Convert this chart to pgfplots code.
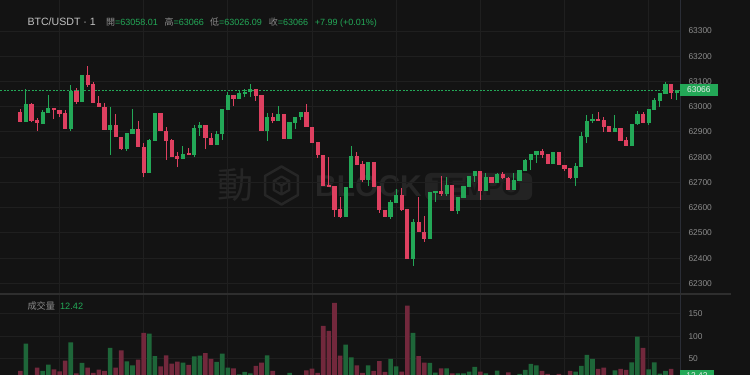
\documentclass[border=0pt]{standalone}
\usepackage{fontspec}
\setmainfont{Liberation Sans}
\newfontfamily\cjk{Noto Sans CJK TC}
\usepackage{pgfplots}
\usepackage{pgfplotstable}
\pgfplotsset{compat=1.18}
\definecolor{bg}{HTML}{131313}
\definecolor{gridc}{HTML}{1F1F1F}
\definecolor{up}{HTML}{23A857}
\definecolor{dn}{HTML}{DE4060}
\definecolor{vup}{HTML}{1E6639}
\definecolor{vdn}{HTML}{72283C}
\definecolor{tick}{HTML}{8C8C8C}
\definecolor{lab}{HTML}{8C8C8C}
\definecolor{titlec}{HTML}{C2C2C2}
\definecolor{wm}{HTML}{262626}
\definecolor{wmbox}{HTML}{232323}
\definecolor{wmtext}{HTML}{171717}
\definecolor{divv}{HTML}{2A2D36}
\definecolor{divh}{HTML}{2E2E2E}
\definecolor{boxtxt}{HTML}{EAEAEA}

% rising candles: index, open, high, low, close, volume
\pgfplotstableread{
i o h l c v
1 62941 63069 62941 63011 83.6
4 62934 62986 62934 62979 22.5
5 62979 63047 62979 62996 36.6
9 62912 63086 62903 63062 86.6
11 63020 63125 63018 63125 40.4
16 62908 62999 62810 62928 73.9
19 62835 62895 62826 62895 44.1
20 62895 62991 62895 62912 35.2
23 62740 62871 62740 62868 106
24 62868 62974 62868 62974 56
29 62794 62844 62794 62814 41.1
31 62811 62926 62802 62916 55.3
32 62916 62940 62885 62926 56.8
35 62850 62905 62850 62893 42.6
36 62893 62991 62869 62991 61.3
37 62991 63060 62991 63048 29.9
39 63033 63066 63033 63056 15
40 63053 63069 63040 63060 20.3
41 63060 63090 63040 63070 17.3
44 62907 62974 62864 62959 57.5
46 62947 63004 62947 62971 10
48 62875 62940 62875 62940 18
49 62939 62961 62912 62960 10
50 62960 62978 62947 62978 10
58 62565 62681 62564 62681 81.4
59 62681 62844 62681 62805 53.1
62 62710 62780 62687 62780 35.2
66 62564 62630 62555 62621 49.3
67 62621 62673 62621 62651 32.8
70 62400 62555 62370 62543 107.5
73 62476 62661 62476 62661 40.4
74 62661 62666 62624 62666 18.7
76 62657 62720 62646 62691 28.4
78 62587 62641 62574 62641 17.3
79 62641 62685 62641 62685 17.3
80 62685 62726 62685 62726 21
81 62726 62745 62703 62745 31.4
83 62667 62736 62667 62723 17.3
85 62698 62736 62698 62732 23.2
88 62671 62739 62671 62708 10
89 62708 62749 62708 62749 15.8
90 62749 62793 62749 62789 24.7
91 62789 62811 62749 62811 38.2
92 62811 62825 62778 62825 35.2
95 62776 62821 62776 62821 10
99 62719 62778 62686 62765 21
100 62765 62899 62765 62884 33.7
101 62884 62966 62855 62945 58.3
102 62944 62970 62937 62951 49.3
106 62901 62967 62901 62914 24
109 62848 62933 62848 62933 41.8
110 62933 62984 62928 62971 99.3
112 62938 62991 62928 62991 26.2
113 62991 63033 62991 63025 41.8
114 63025 63053 63000 63053 16.5
115 63053 63097 63053 63090 22.5
117 63058.01 63066 63026.09 63066 12.42
}\dataup

% falling candles
\pgfplotstableread{
i o h l c v
0 62980 62990 62938 62941 22.5
2 63011 63016 62938 62945 10
3 62946 62955 62904 62936 29.9
6 62996 62997 62950 62988 26.2
7 62988 62988 62958 62974 21.7
8 62975 62986 62913 62913 45.5
10 63062 63075 63010 63019 17.3
12 63125 63161 63079 63089 29.9
13 63090 63099 63014 63015 18.0
14 63015 63043 62999 62999 25.4
15 62999 63016 62908 62908 22.5
17 62928 62971 62881 62881 29.9
18 62881 62881 62829 62834 68.7
21 62912 62942 62842 62842 47.8
22 62842 62855 62720 62740 107.5
25 62974 62974 62904 62904 32.8
26 62904 62920 62789 62867 57.5
27 62867 62873 62802 62802 38.9
28 62805 62821 62760 62794 43.4
30 62815 62838 62810 62810 35.9
33 62926 62926 62831 62879 62.7
34 62877 62895 62850 62850 49.3
38 63048 63048 63004 63033 28.4
42 63071 63072 63024 63046 33.7
43 63047 63048 62906 62907 41.1
45 62959 62974 62934 62947 22.5
47 62971 62971 62875 62875 10
51 62978 63012 62920 62920 24
52 62920 62920 62859 62859 27.7
53 62860 62860 62798 62809 18
54 62808 62808 62687 62687 123.2
55 62687 62802 62685 62686 112
56 62687 62687 62564 62591 174.6
57 62594 62644 62560 62564 56.8
60 62805 62819 62772 62772 35.2
61 62773 62786 62703 62710 18
63 62780 62780 62685 62685 22.5
64 62685 62686 62578 62591 44.8
65 62591 62591 62564 62564 20.3
68 62651 62677 62587 62594 21
69 62594 62594 62400 62400 168.6
71 62543 62644 62505 62505 56
72 62504 62567 62465 62476 41.1
75 62666 62726 62646 62657 28.4
77 62691 62691 62587 62587 17.3
82 62745 62745 62630 62667 21
84 62723 62723 62698 62698 10
86 62732 62741 62712 62719 10
87 62719 62723 62671 62671 19.5
93 62825 62834 62797 62810 22.5
94 62811 62811 62772 62776 15.8
96 62821 62821 62770 62770 15.8
97 62770 62770 62747 62755 10
98 62757 62757 62712 62719 22.5
103 62951 62979 62946 62946 27
104 62946 62958 62899 62922 29.9
105 62922 62922 62900 62901 10
107 62914 62914 62865 62865 27
108 62867 62881 62848 62848 24.7
111 62971 62978 62934 62938 73.9
116 63090 63091 63030 63058 27
}\datadn

\pgfplotsset{
  panel/.style={
    scale only axis, width=680pt,
    xmin=-3.619, xmax=117.594,
    axis line style={draw=none}, major tick length=0pt,
    xtick={7,22,37,52,67,82,97,112}, xticklabels={},
    xticklabel style={overlay},
    yticklabel pos=right,
    yticklabel style={font=\fontsize{8.4}{10}\selectfont, text=tick, anchor=west, xshift=5pt},
    grid=major, grid style={gridc, line width=1pt},
  },
  nomark/.style={only marks, mark=*, mark size=0pt, mark options={draw=none, fill=none}},
}

\begin{document}
\begin{tikzpicture}[x=1pt,y=1pt]
\fill[bg] (0,0) rectangle (750,375);
% watermark
\node[anchor=center, inner sep=0, text=wm, font=\cjk\fontsize{36}{36}\selectfont] at (235.5,190) {動};
\draw[wm, line width=2.5pt, line join=round] (281.5,208.5) -- (297.95,199) -- (297.95,180) -- (281.5,170.5) -- (265.05,180) -- (265.05,199) -- cycle;
\draw[wm, line width=2.2pt, line join=round] (281.5,198.5) -- (289.3,194) -- (289.3,185) -- (281.5,180.5) -- (273.7,185) -- (273.7,194) -- cycle (273.7,194) -- (281.5,189.5) -- (289.3,194) (281.5,189.5) -- (281.5,180.5);
\node[anchor=base west, inner sep=0, text=wm, font=\fontsize{30}{30}\selectfont\bfseries] at (315,178) {BLOCK};
\fill[wmbox, rounded corners=6pt] (425,175) rectangle (532,202);
\node[anchor=base west, inner sep=0, text=wmtext, font=\fontsize{25}{25}\selectfont\bfseries] at (432,179.5) {TEMPO};

\begin{axis}[panel, at={(0pt,81pt)}, anchor=south west, height=294pt,
  ymin=62258, ymax=63423,
  ytick={62300,62400,62500,62600,62700,62800,62900,63000,63100,63200,63300},
  yticklabels={62300,62400,62500,62600,62700,62800,62900,63000,63100,63200,63300}]
\addplot[up, line width=0.8pt, dash pattern=on 2pt off 1.5pt] coordinates {(-3.619,63066) (117.594,63066)};
% wicks
\addplot[nomark, error bars/.cd, y dir=plus, y explicit, error mark=none,
  error bar style={draw=up, line width=1pt}]
  table[x=i, y=l, y error plus expr=\thisrow{h}-\thisrow{l}] {\dataup};
\addplot[nomark, error bars/.cd, y dir=plus, y explicit, error mark=none,
  error bar style={draw=dn, line width=1pt}]
  table[x=i, y=l, y error plus expr=\thisrow{h}-\thisrow{l}] {\datadn};
% bodies
\addplot[only marks, mark=-, mark size=2.1pt, mark options={draw=up, line width=1pt},
  error bars/.cd, y dir=plus, y explicit, error mark=none,
  error bar style={draw=up, line width=4.2pt}]
  table[x=i, y=o, y error plus expr=\thisrow{c}-\thisrow{o}] {\dataup};
\addplot[only marks, mark=-, mark size=2.1pt, mark options={draw=dn, line width=1pt},
  error bars/.cd, y dir=plus, y explicit, error mark=none,
  error bar style={draw=dn, line width=4.2pt}]
  table[x=i, y=c, y error plus expr=\thisrow{o}-\thisrow{c}] {\datadn};
\coordinate (pl) at (axis cs:117.594,63066);
\end{axis}

\begin{axis}[panel, at={(0pt,0pt)}, anchor=south west, height=81pt,
  ymin=13.5, ymax=194.7,
  ytick={50,100,150}, yticklabels={50,100,150},
  ybar, bar width=4.6pt]
\addplot[fill=vup, draw=none, bar shift=0pt] table[x=i, y=v] {\dataup};
\addplot[fill=vdn, draw=none, bar shift=0pt] table[x=i, y=v] {\datadn};
\coordinate (vl) at (axis cs:117.594,12.42);
\end{axis}

% dividers
\draw[divv, line width=1pt] (680,0) -- (680,375);
\draw[divh, line width=1.3pt] (0,81) -- (731,81);

% price labels
\node[fill=up, text=boxtxt, anchor=west, inner xsep=7pt, inner ysep=0pt, minimum height=11.3pt,
  font=\fontsize{8.4}{10}\selectfont] at (pl) {63066};
\node[fill=up, text=boxtxt, anchor=west, inner xsep=6.2pt, inner ysep=0pt, minimum height=11.3pt,
  font=\fontsize{8.4}{10}\selectfont] at (vl) {12.42};

% header
\node[anchor=base west, inner sep=0, text=titlec, font=\fontsize{10.6}{12}\selectfont] at (27.3,349) {BTC/USDT · 1};
\node[anchor=base west, inner sep=0, font=\fontsize{9}{11}\selectfont] at (106,349) {{\cjk\color{lab}開}\textcolor{up}{=63058.01}};
\node[anchor=base west, inner sep=0, font=\fontsize{9}{11}\selectfont] at (164.3,349) {{\cjk\color{lab}高}\textcolor{up}{=63066}};
\node[anchor=base west, inner sep=0, font=\fontsize{9}{11}\selectfont] at (210,349) {{\cjk\color{lab}低}\textcolor{up}{=63026.09}};
\node[anchor=base west, inner sep=0, font=\fontsize{9}{11}\selectfont] at (268.7,349) {{\cjk\color{lab}收}\textcolor{up}{=63066}};
\node[anchor=base west, inner sep=0, font=\fontsize{9}{11}\selectfont, text=up] at (314.7,349) {+7.99 (+0.01\%)};
\node[anchor=base west, inner sep=0, font=\fontsize{9.2}{11}\selectfont] at (27.3,65.7) {{\cjk\color{lab}成交量}\hspace{5pt}\textcolor{up}{12.42}};

\pgfresetboundingbox
\useasboundingbox (0,0) rectangle (750,375);
\end{tikzpicture}
\end{document}
